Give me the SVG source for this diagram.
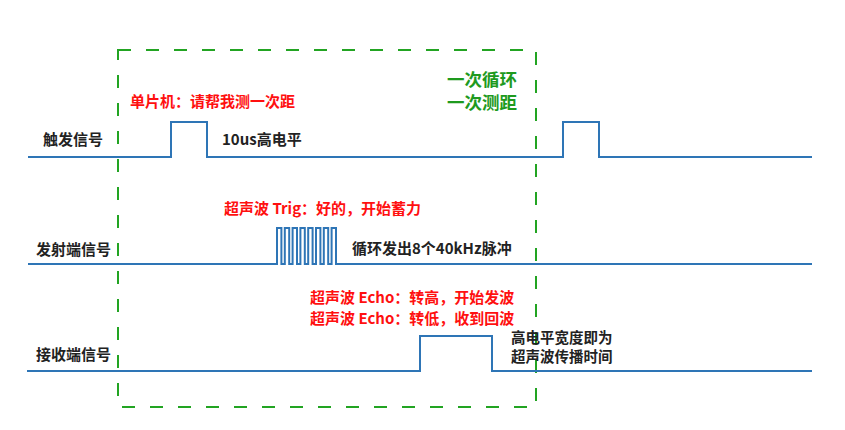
<svg xmlns="http://www.w3.org/2000/svg" width="845" height="430" viewBox="0 0 845 430">
<style>
text{font-family:"Noto Sans CJK SC","Microsoft YaHei",sans-serif;font-weight:700;font-size:15px}
.lbl{fill:#222}
.red{fill:#FF1010}
.grn{fill:#1E9A1E;font-size:17.5px}
.sig{fill:none;stroke:#2E75B6;stroke-width:2}
.sm{font-size:14.5px}
</style>
<rect width="845" height="430" fill="#fff"/>
<g id="cycle-box">
<rect x="118" y="50" width="418" height="357" fill="none" stroke="#22A422" stroke-width="2" stroke-dasharray="13 15"/>
<text class="grn" x="447" y="86">一次循环</text>
<text class="grn" x="447" y="109">一次测距</text>
</g>
<g id="connectors">
<path id="trigger-wave" class="sig" d="M28 157 H171 V122 H207 V157 H563 V122 H599 V157 H812"/>
<path id="transmit-wave" class="sig" d="M28 264 H277 V228 H281.4 V264 H284.8 V228 H289.2 V264 H292.6 V228 H297 V264 H300.4 V228 H304.8 V264 H308.2 V228 H312.6 V264 H316 V228 H320.4 V264 H323.8 V228 H328.2 V264 H331.6 V228 H336 V264 H812"/>
<path id="receive-wave" class="sig" d="M27 371 H420 V336 H492 V371 H812"/>
</g>
<g id="trigger">
<text class="lbl" x="43" y="145">触发信号</text>
<text class="red" x="130" y="107">单片机：请帮我测一次距</text>
<text class="lbl" x="222" y="145">10us高电平</text>
</g>
<g id="transmit">
<text class="lbl" x="36" y="255">发射端信号</text>
<text class="red" x="224" y="214">超声波 Trig：好的，开始蓄力</text>
<text class="lbl" x="352" y="254">循环发出8个40kHz脉冲</text>
</g>
<g id="receive">
<text class="lbl" x="36" y="360">接收端信号</text>
<text class="red" x="310" y="303">超声波 Echo：转高，开始发波</text>
<text class="red" x="310" y="324">超声波 Echo：转低，收到回波</text>
<text class="lbl sm" x="511" y="343">高电平宽度即为</text>
<text class="lbl sm" x="511" y="362">超声波传播时间</text>
</g>
</svg>
